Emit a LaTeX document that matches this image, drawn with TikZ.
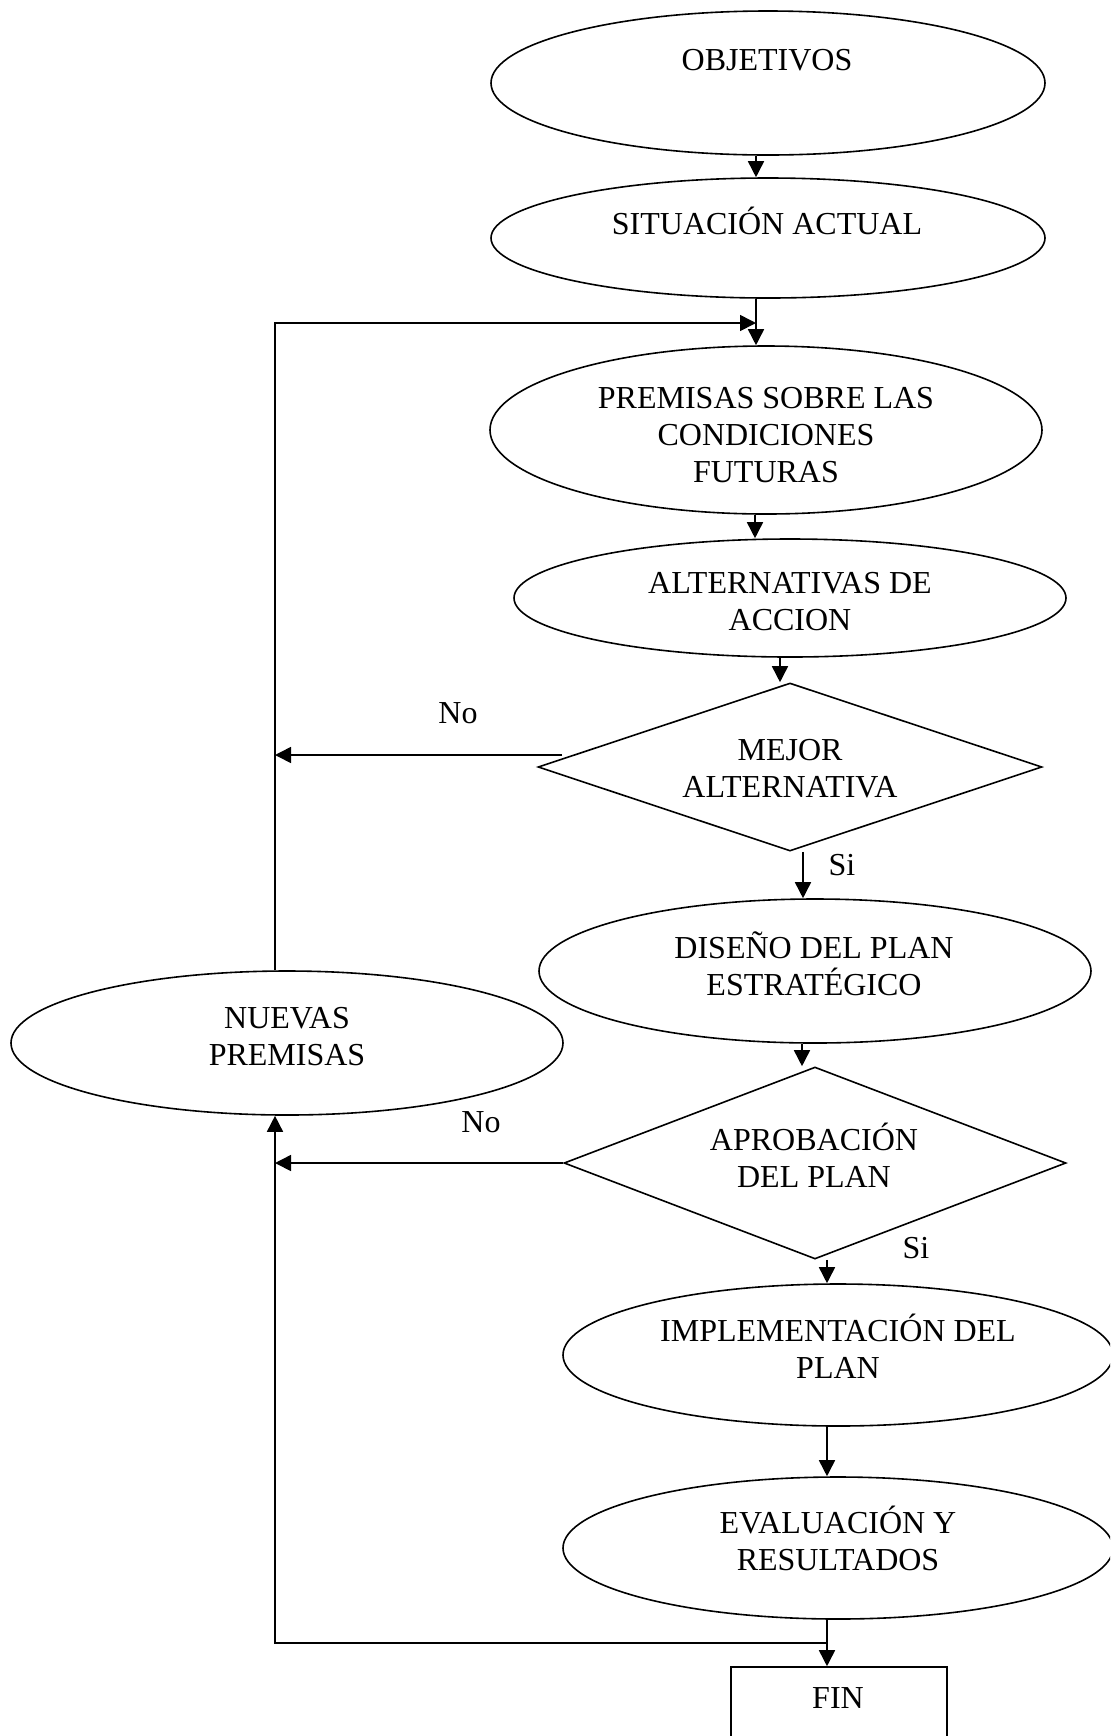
\documentclass[tikz,border=0pt]{standalone}
\usepackage{fontspec}
\setmainfont{Liberation Serif}
\usetikzlibrary{shapes.geometric,arrows.meta}
\begin{document}
\begin{tikzpicture}[x=0.5pt,y=-0.5pt,
  every node/.style={font=\fontsize{16}{18.5}\selectfont},
  ell/.style={draw,ellipse,inner sep=0pt,line width=0.8pt},
  dia/.style={draw,diamond,inner sep=0pt,line width=0.8pt},
  box/.style={draw,rectangle,inner sep=0pt,line width=0.8pt},
  txt/.style={align=center,anchor=base,inner sep=0pt},
  arr/.style={-{Triangle[length=8pt,width=8pt]},line width=0.8pt},
  ln/.style={line width=0.8pt}]
\useasboundingbox (0,0) rectangle (1110,1736);
\clip (0,0) rectangle (1110,1736);
% shapes (text nodes anchored at the baseline of their last line)
\node[ell,minimum width=277pt,minimum height=72pt] (obj) at (768,83) {};
\node[txt] (tobj) at (767,70) {OBJETIVOS};
\node[ell,minimum width=277pt,minimum height=60pt] (sit) at (768,238) {};
\node[txt] (tsit) at (767,234) {SITUACIÓN ACTUAL};
\node[ell,minimum width=276pt,minimum height=84pt] (prem) at (766,430) {};
\node[txt] (tprem) at (766,482) {PREMISAS SOBRE LAS\\CONDICIONES\\FUTURAS};
\node[ell,minimum width=276pt,minimum height=59pt] (alt) at (790,598) {};
\node[txt] (talt) at (790,630) {ALTERNATIVAS DE\\ACCION};
\node[dia,minimum width=252pt,minimum height=84pt] (mej) at (790,767) {};
\node[txt] (tmej) at (790,797) {MEJOR\\ALTERNATIVA};
\node[ell,minimum width=276pt,minimum height=72pt] (dis) at (815,971) {};
\node[txt] (tdis) at (814,995) {DISEÑO DEL PLAN\\ESTRATÉGICO};
\node[ell,minimum width=276pt,minimum height=72pt] (nue) at (287,1043) {};
\node[txt] (tnue) at (287,1065) {NUEVAS\\PREMISAS};
\node[dia,minimum width=251pt,minimum height=96pt] (apr) at (815,1163) {};
\node[txt] (tapr) at (814,1187) {APROBACIÓN\\DEL PLAN};
\node[ell,minimum width=275pt,minimum height=71pt] (imp) at (838,1355) {};
\node[txt] (timp) at (838,1378) {IMPLEMENTACIÓN DEL\\PLAN};
\node[ell,minimum width=275pt,minimum height=71pt] (eva) at (838,1548) {};
\node[txt] (teva) at (838,1570) {EVALUACIÓN Y\\RESULTADOS};
\node[box,minimum width=108pt,minimum height=60pt] (fin) at (839,1727) {};
\node[txt] (tfin) at (838,1708) {FIN};
% labels
\node[txt] (no1) at (458,723) {No};
\node[txt] (si1) at (842,875) {Si};
\node[txt] (no2) at (481,1132) {No};
\node[txt] (si2) at (916,1258) {Si};
% helper coordinates
\coordinate (lx) at ([xshift=-6pt]nue.north);
\coordinate (join1) at (756,323);
\coordinate (m1) at ([shift={(25,-12)}]mej.west);
\coordinate (br) at (827,1643);
% connectors
\draw[arr] ([xshift=-6pt]obj.south) -- ([xshift=-6pt]sit.north);
\draw[arr] ([xshift=-6pt]sit.south) -- ([xshift=-5pt]prem.north);
\draw[arr] (lx) |- (join1);
\draw[arr] ([xshift=-5.5pt]prem.south) -- ([xshift=-17.5pt]alt.north);
\draw[arr] ([xshift=-5pt]alt.south) -- ([xshift=-5pt]mej.north);
\draw[arr] (m1) -- (m1 -| lx);
\draw[arr] ([xshift=6.5pt]mej.south) -- ([xshift=-6pt]dis.north);
\draw[arr] ([xshift=-6.5pt]dis.south) -- ([xshift=-6.5pt]apr.north);
\draw[arr] (apr.west) -- (apr.west -| lx);
\draw[arr] ([xshift=6pt]apr.south) -- ([xshift=-5.5pt]imp.north);
\draw[arr] ([xshift=-5.5pt]imp.south) -- ([xshift=-5.5pt]eva.north);
\draw[arr] ([xshift=-5.5pt]eva.south) -- ([xshift=-6pt]fin.north);
\draw[arr] (br) -| ([xshift=-6pt]nue.south);
\end{tikzpicture}
\end{document}
